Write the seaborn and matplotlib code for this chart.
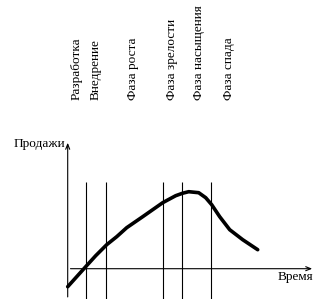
import matplotlib
matplotlib.use("Agg")
import matplotlib.pyplot as plt
import seaborn as sns
import pandas as pd

sns.set_theme(style="white")
plt.rcParams['font.family'] = ['Liberation Serif', 'DejaVu Serif']

# Product life cycle curve (time vs sales), axis crossing at (0, 0)
time = [0, 9, 18, 28, 39, 49, 59, 75, 95, 108, 115, 121, 131, 138, 144, 152, 162, 175, 190]
sales = [-18, -8, 2, 13, 24, 32, 41, 52, 66, 73, 75.5, 77, 76, 71, 64, 52, 39, 29, 19]

phase_names = ["Разработка", "Внедрение", "Фаза роста", "Фаза зрелости",
               "Фаза насыщения", "Фаза спада"]
phase_bounds = [18.3, 38.6, 95.3, 114.6, 143.6]
label_x = [8.5, 27.5, 65.5, 104.5, 131.5, 161.5]

df = pd.DataFrame({"time": time, "sales": sales})

fig = plt.figure(figsize=(3.27, 2.99), dpi=100)
ax = fig.add_axes([0, 0, 1, 1])
ax.set_xlim(-67.7, 259.3)
ax.set_ylim(-30.3, 268.7)
ax.axis("off")

# axes with small arrows
ax.annotate("", xy=(0, 128.7), xytext=(0, -31),
            arrowprops=dict(arrowstyle="->,head_length=0.3,head_width=0.12", lw=0.8, color="black"))
ax.annotate("", xy=(247.3, 0), xytext=(0, 0),
            arrowprops=dict(arrowstyle="->,head_length=0.3,head_width=0.12", lw=0.8, color="black"))

# phase boundaries
ax.vlines(phase_bounds, -31, 87, color="black", lw=0.8)

sns.lineplot(data=df, x="time", y="sales", ax=ax, color="black", lw=2.6, legend=False)

for x, name in zip(label_x, phase_names):
    ax.text(x, 168.7, name, rotation=90, ha="center", va="bottom", fontsize=9.5, color="black")

ax.text(-2.5, 125, "Продажи", ha="right", va="center", fontsize=9.5, color="black")
ax.text(246, -8, "Время", ha="right", va="center", fontsize=9.5, color="black")

fig.savefig("out.png", dpi=100)
